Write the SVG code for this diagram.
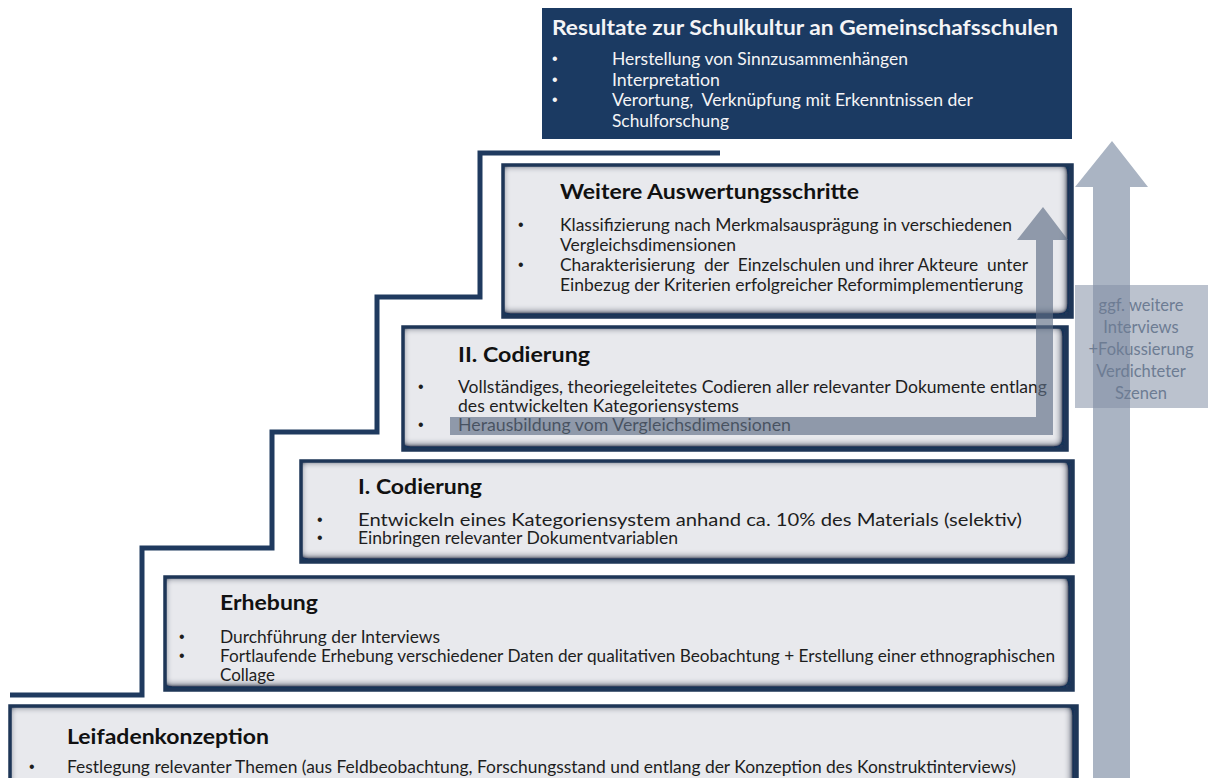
<svg xmlns="http://www.w3.org/2000/svg" width="1208" height="778" viewBox="0 0 1208 778">
<defs>
<style>
.box{fill:#e8e9ed;stroke:none;filter:url(#bevel)}
.edge{fill:none;stroke:#1e3657;stroke-width:3.5}
.ttl{font-family:Lato,"Liberation Sans",sans-serif;font-weight:bold;font-size:20px;fill:#111}
.txt{font-family:Lato,"Liberation Sans",sans-serif;font-size:16.5px;fill:#1e1e1e}
.bul{font-family:"Liberation Sans",sans-serif;font-size:16px;fill:#1e1e1e}
.w{fill:#f4f4f6}
.lbl{font-family:Lato,"Liberation Sans",sans-serif;font-size:16.5px;fill:#6d7c93;text-anchor:middle}
.stair{fill:none;stroke:#1f3a5f;stroke-width:5;stroke-linejoin:miter}
</style>
<filter id="bevel" x="-5%" y="-25%" width="110%" height="150%">
<feFlood flood-color="#1c3558" result="c"/>
<feComposite in="c" in2="SourceAlpha" operator="out" result="outside"/>
<feGaussianBlur in="outside" stdDeviation="5" result="b"/>
<feOffset in="b" dx="-3" dy="-2.5" result="o"/>
<feComposite in="o" in2="SourceAlpha" operator="in" result="inner"/>
<feComponentTransfer in="inner" result="innerS"><feFuncA type="linear" slope="2.6"/></feComponentTransfer>
<feMerge><feMergeNode in="SourceGraphic"/><feMergeNode in="innerS"/></feMerge>
</filter>
</defs>
<rect width="1208" height="778" fill="#ffffff"/>

<g id="staircase">
<path class="stair" d="M10,695 H142 V548 H272 V432 H377 V297 H480 V153 H720"/>
</g>

<g id="node-resultate">
<rect x="542" y="8" width="530" height="131" fill="#1b3a62"/>
<text class="ttl w" x="552" y="35" font-size="21" textLength="506" lengthAdjust="spacingAndGlyphs">Resultate zur Schulkultur an Gemeinschafsschulen</text>
<text class="bul w" x="552" y="64">•</text>
<text class="bul w" x="552" y="85">•</text>
<text class="bul w" x="552" y="105">•</text>
<text class="txt w" x="612" y="65" textLength="296" lengthAdjust="spacingAndGlyphs">Herstellung von Sinnzusammenhängen</text>
<text class="txt w" x="612" y="86" textLength="108" lengthAdjust="spacingAndGlyphs">Interpretation</text>
<text class="txt w" x="612" y="106" xml:space="preserve" textLength="361" lengthAdjust="spacingAndGlyphs">Verortung,  Verknüpfung mit Erkenntnissen der</text>
<text class="txt w" x="612" y="127" textLength="117" lengthAdjust="spacingAndGlyphs">Schulforschung</text>
</g>

<g id="node-weitere">
<rect class="box" x="503" y="165" width="569" height="152"/>
<rect class="edge" x="503" y="165" width="569" height="152"/>
<text class="ttl" x="560" y="199" textLength="299" lengthAdjust="spacingAndGlyphs">Weitere Auswertungsschritte</text>
<text class="bul" x="518" y="230">•</text>
<text class="bul" x="518" y="270">•</text>
<text class="txt" x="560" y="231" textLength="452" lengthAdjust="spacingAndGlyphs">Klassifizierung nach Merkmalsausprägung in verschiedenen</text>
<text class="txt" x="560" y="251" textLength="176" lengthAdjust="spacingAndGlyphs">Vergleichsdimensionen</text>
<text class="txt" x="560" y="271" xml:space="preserve" textLength="468" lengthAdjust="spacingAndGlyphs">Charakterisierung  der  Einzelschulen und ihrer Akteure  unter</text>
<text class="txt" x="560" y="291" textLength="463" lengthAdjust="spacingAndGlyphs">Einbezug der Kriterien erfolgreicher Reformimplementierung</text>
</g>

<g id="node-codierung2">
<rect class="box" x="403" y="327" width="664" height="123"/>
<rect class="edge" x="403" y="327" width="664" height="123"/>
<text class="ttl" x="458" y="362" textLength="132" lengthAdjust="spacingAndGlyphs">II. Codierung</text>
<text class="bul" x="418" y="392">•</text>
<text class="bul" x="418" y="430">•</text>
<text class="txt" x="458" y="393" textLength="589" lengthAdjust="spacingAndGlyphs">Vollständiges, theoriegeleitetes Codieren aller relevanter Dokumente entlang</text>
<text class="txt" x="458" y="412" textLength="281" lengthAdjust="spacingAndGlyphs">des entwickelten Kategoriensystems</text>
<text class="txt" x="458" y="431" textLength="333" lengthAdjust="spacingAndGlyphs">Herausbildung vom Vergleichsdimensionen</text>
</g>

<g id="node-codierung1">
<rect class="box" x="301" y="461" width="772" height="101"/>
<rect class="edge" x="301" y="461" width="772" height="101"/>
<text class="ttl" x="358" y="494" textLength="124" lengthAdjust="spacingAndGlyphs">I. Codierung</text>
<text class="bul" x="317" y="525">•</text>
<text class="bul" x="317" y="543">•</text>
<text class="txt" x="358" y="526" textLength="664" lengthAdjust="spacingAndGlyphs">Entwickeln eines Kategoriensystem anhand ca. 10% des Materials (selektiv)</text>
<text class="txt" x="358" y="544" textLength="320" lengthAdjust="spacingAndGlyphs">Einbringen relevanter Dokumentvariablen</text>
</g>

<g id="node-erhebung">
<rect class="box" x="165" y="577" width="908" height="113"/>
<rect class="edge" x="165" y="577" width="908" height="113"/>
<text class="ttl" x="220" y="610" textLength="98" lengthAdjust="spacingAndGlyphs">Erhebung</text>
<text class="bul" x="179" y="642">•</text>
<text class="bul" x="179" y="661">•</text>
<text class="txt" x="220" y="643" textLength="220" lengthAdjust="spacingAndGlyphs">Durchführung der Interviews</text>
<text class="txt" x="220" y="662" textLength="835" lengthAdjust="spacingAndGlyphs">Fortlaufende Erhebung verschiedener Daten der qualitativen Beobachtung + Erstellung einer ethnographischen</text>
<text class="txt" x="220" y="681" textLength="55" lengthAdjust="spacingAndGlyphs">Collage</text>
</g>

<g id="node-leifaden">
<rect class="box" x="10" y="706" width="1067" height="90"/>
<rect class="edge" x="10" y="706" width="1067" height="90"/>
<text class="ttl" x="67" y="744" textLength="202" lengthAdjust="spacingAndGlyphs">Leifadenkonzeption</text>
<text class="bul" x="29" y="772">•</text>
<text class="txt" x="67" y="773" textLength="949" lengthAdjust="spacingAndGlyphs">Festlegung relevanter Themen (aus Feldbeobachtung, Forschungsstand und entlang der Konzeption des Konstruktinterviews)</text>
</g>

<g id="connectors">
<path id="arrow-inner" d="M450,417 H1036 V240 H1017 L1043,207 L1068,240 H1053 V435 H450 Z" fill="#5f6e86" fill-opacity="0.65"/>
<path id="arrow-main" d="M1093,790 V187 H1075 L1112,141 L1148,187 H1130 V790 Z" fill="#aab4c3"/>
</g>

<g id="node-label">
<rect x="1075" y="285" width="140" height="123" fill="#8390a6" fill-opacity="0.55"/>
<text class="lbl" x="1141" y="311">ggf. weitere</text>
<text class="lbl" x="1141" y="333">Interviews</text>
<text class="lbl" x="1141" y="355">+Fokussierung</text>
<text class="lbl" x="1141" y="377">Verdichteter</text>
<text class="lbl" x="1141" y="399">Szenen</text>
</g>
</svg>
